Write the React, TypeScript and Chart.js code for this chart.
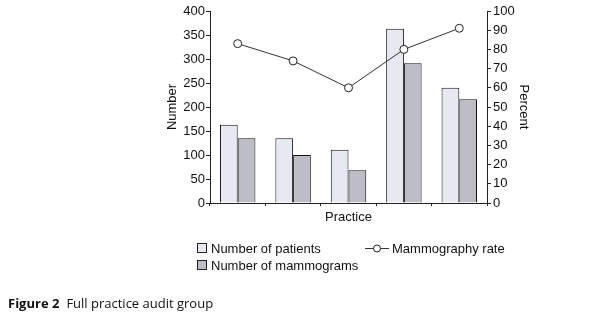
import React, { useEffect, useRef } from "react";
import { Chart, registerables } from "chart.js";

Chart.register(...registerables);

const practices = ["A", "B", "C", "D", "E"];
const patients = [163, 135, 111, 363, 240];
const mammograms = [135, 100, 68, 291, 216];
const mammographyRate = [83, 74, 60, 80, 91];
const leftTicks = [0, 50, 100, 150, 200, 250, 300, 350, 400];
const rightTicks = [0, 10, 20, 30, 40, 50, 60, 70, 80, 90, 100];

const FONT = "'Liberation Sans', Arial, sans-serif";
const PATIENT_COLOR = "#e6e9ef";
const MAMMO_COLOR = "#bdbdc5";

const legendPlugin = {
  id: "customLegend",
  afterDraw(chart: any) {
    const ctx = chart.ctx;
    ctx.save();
    ctx.font = `13px ${FONT}`;
    ctx.textBaseline = "middle";
    ctx.fillStyle = "#111";
    const items = [
      { color: PATIENT_COLOR, label: "Number of patients", x: 197, y: 248 },
      { color: MAMMO_COLOR, label: "Number of mammograms", x: 197, y: 265 },
    ];
    items.forEach((it) => {
      ctx.fillStyle = it.color;
      ctx.fillRect(it.x + 0.5, it.y - 4.5, 9, 9);
      ctx.strokeStyle = "#222";
      ctx.lineWidth = 1;
      ctx.strokeRect(it.x + 0.5, it.y - 4.5, 9, 9);
      ctx.fillStyle = "#111";
      ctx.textAlign = "left";
      ctx.fillText(it.label, it.x + 14, it.y + 1);
    });
    // line legend
    const ly = 248;
    ctx.strokeStyle = "#333";
    ctx.beginPath();
    ctx.moveTo(365, ly + 0.5);
    ctx.lineTo(389, ly + 0.5);
    ctx.stroke();
    ctx.beginPath();
    ctx.arc(377, ly + 0.5, 3.5, 0, Math.PI * 2);
    ctx.fillStyle = "#fff";
    ctx.fill();
    ctx.strokeStyle = "#222";
    ctx.stroke();
    ctx.fillStyle = "#111";
    ctx.fillText("Mammography rate", 392, ly + 1);

    // caption
    ctx.textBaseline = "middle";
    ctx.font = `bold 13px 'Open Sans', 'Noto Sans', sans-serif`;
    ctx.fillStyle = "#111";
    const fig = "Figure 2";
    ctx.fillText(fig, 8, 304);
    const w = ctx.measureText(fig).width;
    ctx.font = `13px 'Open Sans', 'Noto Sans', sans-serif`;
    ctx.fillText("Full practice audit group", 8 + w + 7, 304);
    ctx.restore();
  },
};

export default function App() {
  const ref = useRef<HTMLCanvasElement | null>(null);
  useEffect(() => {
    if (!ref.current) return;
    const chart = new Chart(ref.current, {
      type: "bar",
      data: {
        labels: practices,
        datasets: [
          {
            type: "line",
            label: "Mammography rate",
            data: mammographyRate,
            yAxisID: "y1",
            borderColor: "#333",
            borderWidth: 1,
            pointRadius: 4,
            pointBackgroundColor: "#fff",
            pointBorderColor: "#222",
            pointBorderWidth: 1,
            tension: 0,
            order: 0,
          } as any,
          {
            label: "Number of patients",
            data: patients,
            backgroundColor: PATIENT_COLOR,
            borderColor: "#111",
            borderWidth: 1,
            yAxisID: "y",
            categoryPercentage: 0.64,
            barPercentage: 1.0,
            order: 1,
          },
          {
            label: "Number of mammograms",
            data: mammograms,
            backgroundColor: MAMMO_COLOR,
            borderColor: "#111",
            borderWidth: 1,
            yAxisID: "y",
            categoryPercentage: 0.64,
            barPercentage: 1.0,
            order: 1,
          },
        ],
      },
      options: {
        animation: false,
        responsive: false,
        maintainAspectRatio: false,
        layout: { padding: { top: 11, left: 161, right: 65, bottom: 95 } },
        plugins: { legend: { display: false }, tooltip: { enabled: false } },
        scales: {
          x: {
            offset: true,
            grid: {
              offset: true,
              drawOnChartArea: false,
              drawTicks: true,
              tickLength: 3,
              color: "#222",
            },
            border: { color: "#222", width: 1 },
            ticks: { display: false },
            title: {
              display: true,
              text: "Practice",
              color: "#111",
              font: { family: FONT, size: 13 },
              padding: { top: 4, bottom: 4 },
            },
            afterFit: (s: any) => {
              s.height = 26;
            },
          },
          y: {
            position: "left",
            min: 0,
            max: 400,
            afterBuildTicks: (s: any) => {
              s.ticks = leftTicks.map((v) => ({ value: v }));
            },
            grid: { drawOnChartArea: false, tickLength: 4, color: "#222" },
            border: { color: "#222", width: 1 },
            ticks: {
              color: "#111",
              font: { family: FONT, size: 13 },
              padding: 1,
            },
            title: {
              display: true,
              text: "Number",
              color: "#111",
              font: { family: FONT, size: 13 },
              padding: { top: 4, bottom: 4 },
            },
            afterFit: (s: any) => {
              s.width = 49;
            },
          },
          y1: {
            position: "right",
            min: 0,
            max: 100,
            afterBuildTicks: (s: any) => {
              s.ticks = rightTicks.map((v) => ({ value: v }));
            },
            grid: { drawOnChartArea: false, tickLength: 4, color: "#222" },
            border: { color: "#222", width: 1 },
            ticks: {
              color: "#111",
              font: { family: FONT, size: 13 },
              padding: 2,
            },
            title: {
              display: true,
              text: "Percent",
              color: "#111",
              font: { family: FONT, size: 13 },
              padding: { top: 4, bottom: 4 },
            },
            afterFit: (s: any) => {
              s.width = 48;
            },
          },
        },
      },
      plugins: [legendPlugin],
    });
    return () => chart.destroy();
  }, []);
  return (
    <div style={{ position: "absolute", left: 0, top: 0, width: 600, height: 324, background: "#fff" }}>
      <canvas ref={ref} width={600} height={324} style={{ display: "block" }} />
    </div>
  );
}
